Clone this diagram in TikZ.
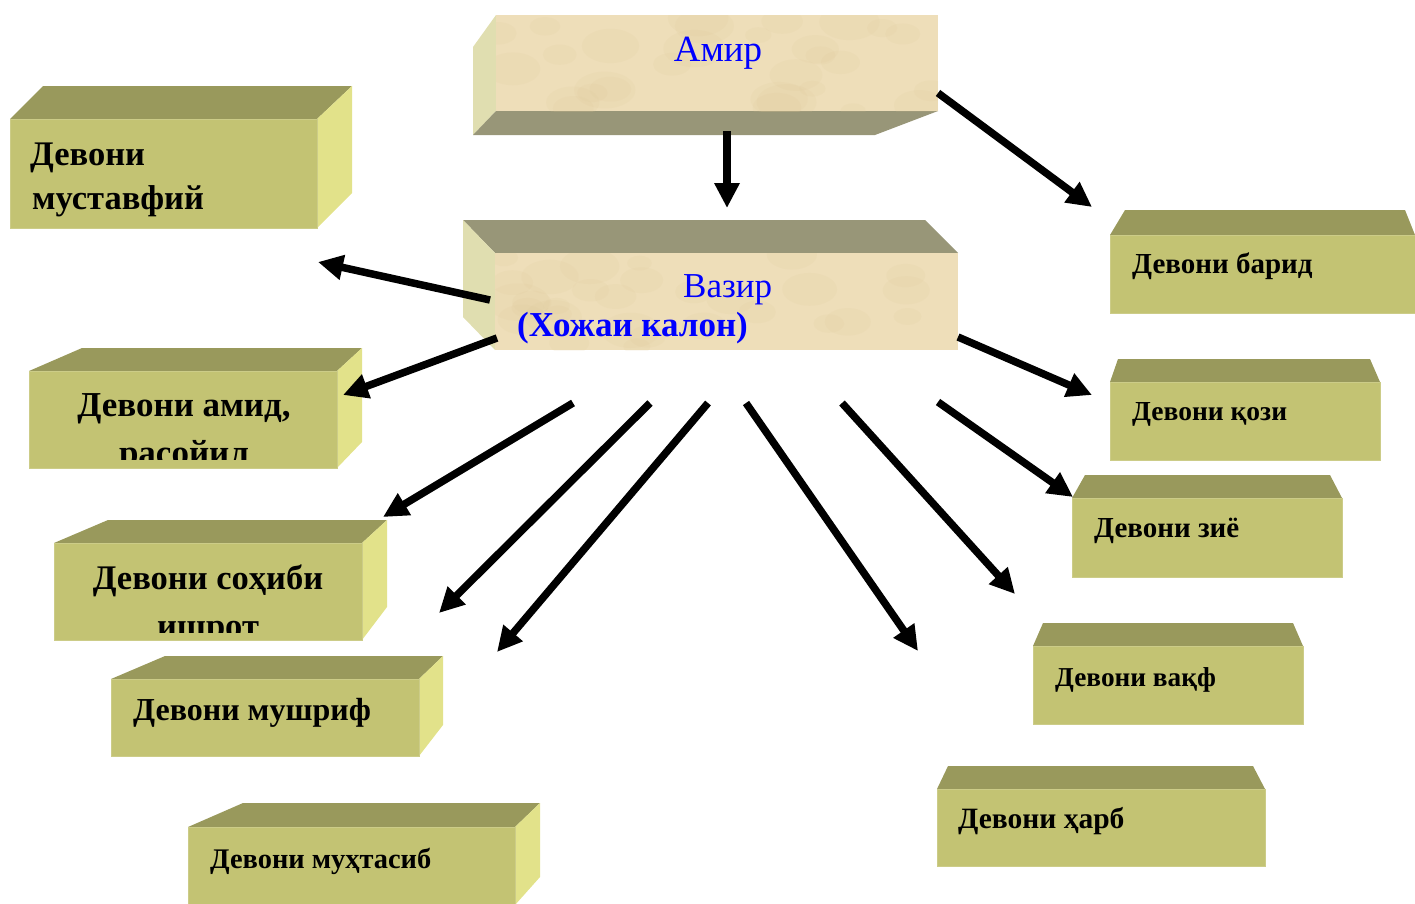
\documentclass[tikz,border=0pt]{standalone}
\usepackage{fontspec}
\setmainfont{Liberation Serif}
\usetikzlibrary{arrows.meta}
\definecolor{olvtop}{RGB}{153,153,92}
\definecolor{olvfront}{RGB}{195,195,115}
\definecolor{olvside}{RGB}{226,226,138}
\definecolor{beige}{RGB}{238,222,185}
\definecolor{beigedark}{RGB}{220,198,150}
\definecolor{beigeside}{RGB}{224,222,176}
\definecolor{greyolv}{RGB}{152,150,120}
\newcommand\fsz[1]{\fontsize{#1}{#1}\selectfont\bfseries}
\tikzset{
  topf/.style={fill=olvtop, draw=none},
  frontf/.style={fill=olvfront, draw=olvfront!85!white, line width=1pt},
  sidef/.style={fill=olvside, draw=none},
  beigef/.style={fill=beige, draw=none},
  beigeside/.style={fill=beigeside, draw=none},
  greyf/.style={fill=greyolv, draw=none},
  mottle/.style={fill=beigedark, opacity=0.12},
  lbl/.style={inner sep=0pt, anchor=base west, text=black},
  ctr/.style={inner sep=0pt, anchor=base, text=black},
  arr/.style={line width=7.5pt, -{Triangle[length=25pt,width=24pt]}}
}
\begin{document}
\begin{tikzpicture}[x=1pt,y=-1pt]
\useasboundingbox (0,0) rectangle (1415,903);
\pgfmathsetseed{7}
% ---------- Amir ----------
\fill[beigeside] (473,47) -- (496,15) -- (496,111) -- (473,135) -- cycle;
\fill[greyf] (473,135) -- (496,111) -- (938,111) -- (875,135) -- cycle;
\fill[beigef] (496,15) rectangle (938,111);
\begin{scope}
\clip (496,15) rectangle (938,111);
\foreach \k in {1,...,30} {
  \pgfmathsetmacro\xx{496+442*rnd}\pgfmathsetmacro\yy{15+96*rnd}
  \pgfmathsetmacro\rr{12+20*rnd}
  \fill[mottle] (\xx,\yy) ellipse ({\rr} and {0.6*\rr});
}
\end{scope}
\node[inner sep=0pt, anchor=base, text=blue, font=\fontsize{37}{40}\selectfont] (amir) at (718,61) {Амир};
% ---------- Vazir ----------
\fill[greyf] (463,220) -- (925,220) -- (958,253) -- (495,253) -- cycle;
\fill[beigeside] (463,220) -- (495,253) -- (495,350) -- (463,317) -- cycle;
\fill[beigef] (495,253) rectangle (958,350);
\begin{scope}
\clip (495,253) rectangle (958,350);
\foreach \k in {1,...,30} {
  \pgfmathsetmacro\xx{495+463*rnd}\pgfmathsetmacro\yy{253+97*rnd}
  \pgfmathsetmacro\rr{12+20*rnd}
  \fill[mottle] (\xx,\yy) ellipse ({\rr} and {0.6*\rr});
}
\end{scope}
\node[inner sep=0pt, anchor=base west, text=blue, font=\fontsize{35}{38}\selectfont] (vazir) at (683,297) {Вазир};
\node[inner sep=0pt, anchor=base west, text=blue, font=\fsz{35}] (khoja) at (517,336) {(Хожаи калон)};
% ---------- Left boxes ----------
% B1
\fill[topf] (10,119) -- (43,86) -- (352,86) -- (317,119) -- cycle;
\fill[sidef] (317,119) -- (352,86) -- (352,193) -- (317,228) -- cycle;
\filldraw[frontf] (10,119) rectangle (317,228);
\node[lbl, font=\fsz{34.5}] (b1a) at (30,165) {Девони};
\node[lbl, font=\fsz{34.5}] (b1b) at (32,209) {муставфий};
% B2
\fill[topf] (29,371) -- (82,348) -- (362,348) -- (337,371) -- cycle;
\fill[sidef] (337,371) -- (362,348) -- (362,442) -- (337,468) -- cycle;
\filldraw[frontf] (29,371) rectangle (337,468);
\begin{scope}
\clip (29,371) rectangle (337,459);
\node[ctr, font=\fsz{35}] (b2a) at (184,416) {Девони амид,};
\node[ctr, font=\fsz{35}] (b2b) at (184,464) {расойил};
\end{scope}
% B3
\fill[topf] (54,543) -- (108,520) -- (387,520) -- (362,543) -- cycle;
\fill[sidef] (362,543) -- (387,520) -- (387,607) -- (362,640) -- cycle;
\filldraw[frontf] (54,543) rectangle (362,640);
\begin{scope}
\clip (54,543) rectangle (362,632);
\node[ctr, font=\fsz{34.5}] (b3a) at (208,589) {Девони соҳиби};
\node[ctr, font=\fsz{34.5}] (b3b) at (208,637) {ишрот};
\end{scope}
% B4
\fill[topf] (111,679) -- (165,656) -- (443,656) -- (419,679) -- cycle;
\fill[sidef] (419,679) -- (443,656) -- (443,725) -- (419,756) -- cycle;
\filldraw[frontf] (111,679) rectangle (419,756);
\node[lbl, font=\fsz{32}] (b4) at (133,720) {Девони мушриф};
% B5
\fill[topf] (188,827) -- (243,803) -- (540,803) -- (515,827) -- cycle;
\fill[sidef] (515,827) -- (540,803) -- (540,877) -- (515,905) -- cycle;
\filldraw[frontf] (188,827) rectangle (515,910);
\node[lbl, font=\fsz{28.4}] (b5) at (210,868) {Девони муҳтасиб};
% ---------- Right boxes ----------
% B6
\fill[topf] (1110,235) -- (1125,210) -- (1405,210) -- (1415,235) -- cycle;
\filldraw[frontf] (1110,235) rectangle (1420,313);
\node[lbl, font=\fsz{29}] (b6) at (1132,273) {Девони барид};
% B7
\fill[topf] (1110,382) -- (1118,359) -- (1370,359) -- (1380,382) -- cycle;
\filldraw[frontf] (1110,382) rectangle (1380,460);
\node[lbl, font=\fsz{27.5}] (b7) at (1132,420) {Девони қози};
% B8
\fill[topf] (1072,498) -- (1085,475) -- (1330,475) -- (1342,498) -- cycle;
\filldraw[frontf] (1072,498) rectangle (1342,577);
\node[lbl, font=\fsz{29}] (b8) at (1094,537) {Девони зиё};
% B9
\fill[topf] (1033,646) -- (1043,623) -- (1293,623) -- (1303,646) -- cycle;
\filldraw[frontf] (1033,646) rectangle (1303,724);
\node[lbl, font=\fsz{27.3}] (b9) at (1055,686) {Девони вақф};
% B10
\fill[topf] (937,789) -- (948,766) -- (1253,766) -- (1265,789) -- cycle;
\filldraw[frontf] (937,789) rectangle (1265,866);
\node[lbl, font=\fsz{29.5}] (b10) at (958,828) {Девони ҳарб};
% ---------- Arrow endpoints ----------
\coordinate (s0) at (727,131);  \coordinate (e0) at (727,208);
\coordinate (s1) at (938,93);   \coordinate (e1) at (1092,207);
\coordinate (s2) at (490,300);  \coordinate (e2) at (318,262);
\coordinate (s3) at (497,338);  \coordinate (e3) at (343,395);
\coordinate (s4) at (573,403);  \coordinate (e4) at (383,517);
\coordinate (s5) at (650,403);  \coordinate (e5) at (439,613);
\coordinate (s6) at (708,403);  \coordinate (e6) at (497,652);
\coordinate (s7) at (746,403);  \coordinate (e7) at (918,651);
\coordinate (s8) at (842,403);  \coordinate (e8) at (1015,594);
\coordinate (s9) at (938,402);  \coordinate (e9) at (1073,497);
\coordinate (s10) at (958,337); \coordinate (e10) at (1092,395);
\foreach \i in {0,...,10} { \draw[arr] (s\i) -- (e\i); }
\end{tikzpicture}
\end{document}
